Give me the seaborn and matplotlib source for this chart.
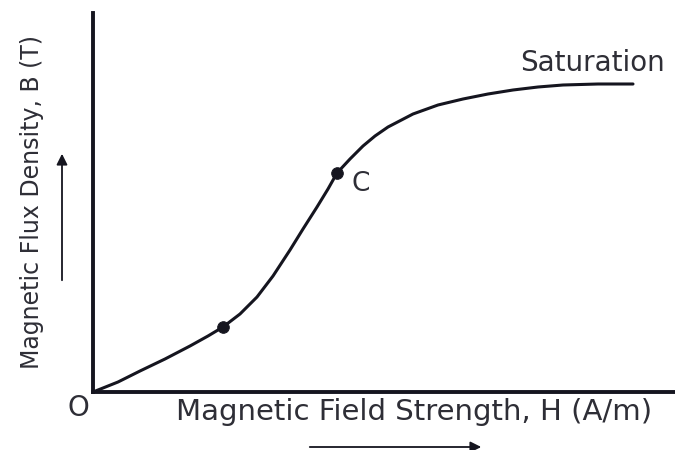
import matplotlib
matplotlib.use("Agg")
import matplotlib.pyplot as plt
import seaborn as sb
import pandas as pd

# B-H magnetisation curve (arbitrary units)
H = [0, 0.25, 0.47, 0.72, 0.97, 1.15, 1.30, 1.47, 1.64, 1.80, 1.97, 2.10, 2.24,
     2.35, 2.44, 2.57, 2.70, 2.82, 2.95, 3.20, 3.45, 3.70, 3.95, 4.20, 4.45,
     4.70, 5.05, 5.40]
B = [0, 0.10, 0.21, 0.33, 0.46, 0.56, 0.65, 0.78, 0.95, 1.16, 1.42, 1.63, 1.85,
     2.03, 2.19, 2.33, 2.46, 2.56, 2.65, 2.78, 2.87, 2.93, 2.98, 3.02, 3.05,
     3.07, 3.08, 3.08]
marked_H = [1.30, 2.44]
marked_B = [0.65, 2.19]

df = pd.DataFrame({"H": H, "B": B})
pts = pd.DataFrame({"H": marked_H, "B": marked_B})

sb.set_style("white")
plt.rcParams["font.family"] = ["DejaVu Sans"]

ink = "#15151f"
txt = "#2e2e36"

fig = plt.figure(figsize=(6.75, 4.5), dpi=100)
ax = fig.add_axes([93 / 675, 58 / 450, 582 / 675, 379 / 450])

sb.lineplot(data=df, x="H", y="B", ax=ax, color=ink, linewidth=2.2)
sb.scatterplot(data=pts, x="H", y="B", ax=ax, color=ink, s=70, edgecolor=ink, zorder=5)

ax.set_xlim(0, 5.82)
ax.set_ylim(0, 3.79)
ax.set_xticks([])
ax.set_yticks([])
ax.set_xlabel("")
ax.set_ylabel("")
for s in ["top", "right"]:
    ax.spines[s].set_visible(False)
for s in ["left", "bottom"]:
    ax.spines[s].set_linewidth(2.8)
    ax.spines[s].set_color(ink)

ax.text(2.68, 2.08, "C", fontsize=19, color=txt, ha="center", va="center")
ax.text(5.0, 3.29, "Saturation", fontsize=20, color=txt, ha="center", va="center")

fig.text(414 / 675, 1 - 412 / 450, "Magnetic Field Strength, H (A/m)", fontsize=21,
         color=txt, ha="center", va="center")
fig.text(32 / 675, 1 - 202 / 450, "Magnetic Flux Density, B (T)", fontsize=17,
         color=txt, ha="center", va="center", rotation=90)
fig.text(78 / 675, 1 - 408 / 450, "O", fontsize=20, color=txt, ha="center", va="center")

# direction arrows
ax.annotate("", xy=(484, 3), xytext=(307, 3), xycoords="figure pixels",
            textcoords="figure pixels", annotation_clip=False,
            arrowprops=dict(arrowstyle="-|>", color=ink, lw=1.3, mutation_scale=16))
ax.annotate("", xy=(62, 299), xytext=(62, 167), xycoords="figure pixels",
            textcoords="figure pixels", annotation_clip=False,
            arrowprops=dict(arrowstyle="-|>", color=ink, lw=1.3, mutation_scale=16))

fig.savefig("out.png", dpi=100)
